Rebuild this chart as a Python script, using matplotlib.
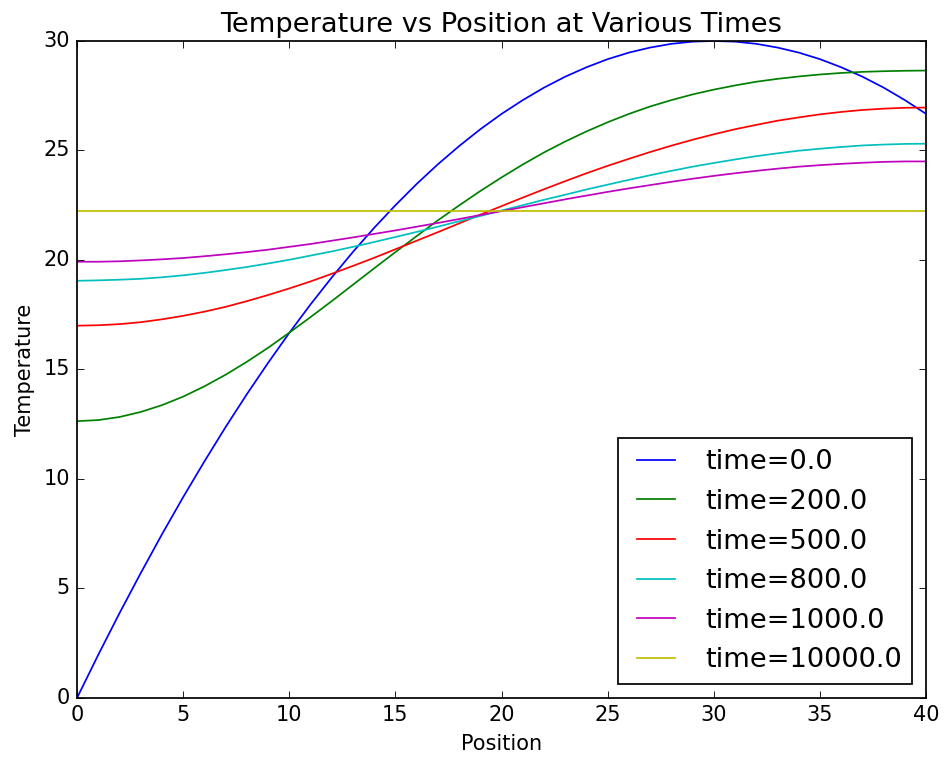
import matplotlib
matplotlib.use('Agg')
import matplotlib.pyplot as plt

plt.style.use('classic')

# position along the rod (step 1)
position = list(range(0, 41))

# temperature profiles
temp_0 = [0.0, 1.97, 3.87, 5.7, 7.47, 9.17, 10.8, 12.37, 13.87, 15.3, 16.67,
          17.97, 19.2, 20.37, 21.47, 22.5, 23.47, 24.37, 25.2, 25.97, 26.67,
          27.3, 27.87, 28.37, 28.8, 29.17, 29.47, 29.7, 29.87, 29.97, 30.0,
          29.97, 29.87, 29.7, 29.47, 29.17, 28.8, 28.37, 27.87, 27.3, 26.67]
temp_200 = [12.64, 12.69, 12.83, 13.06, 13.37, 13.76, 14.23, 14.76, 15.35, 15.99, 16.68,
            17.39, 18.12, 18.87, 19.62, 20.36, 21.09, 21.81, 22.49, 23.15, 23.77,
            24.36, 24.91, 25.41, 25.87, 26.29, 26.67, 27.01, 27.30, 27.56, 27.78,
            27.97, 28.14, 28.27, 28.38, 28.47, 28.54, 28.59, 28.62, 28.64, 28.65]
temp_500 = [17.00, 17.02, 17.07, 17.16, 17.29, 17.45, 17.64, 17.86, 18.12, 18.40, 18.70,
            19.02, 19.37, 19.73, 20.10, 20.49, 20.88, 21.27, 21.67, 22.07, 22.46,
            22.85, 23.23, 23.60, 23.96, 24.30, 24.62, 24.93, 25.22, 25.49, 25.74,
            25.97, 26.17, 26.36, 26.51, 26.65, 26.76, 26.85, 26.91, 26.95, 26.96]
temp_800 = [19.05, 19.07, 19.10, 19.14, 19.21, 19.30, 19.41, 19.54, 19.68, 19.84, 20.01,
            20.20, 20.39, 20.60, 20.82, 21.05, 21.28, 21.52, 21.77, 22.01, 22.26,
            22.50, 22.75, 22.98, 23.22, 23.44, 23.66, 23.87, 24.07, 24.26, 24.43,
            24.59, 24.74, 24.87, 24.99, 25.08, 25.16, 25.23, 25.27, 25.30, 25.31]
temp_1000 = [19.92, 19.92, 19.94, 19.98, 20.03, 20.09, 20.17, 20.26, 20.36, 20.47, 20.60,
             20.73, 20.88, 21.03, 21.19, 21.35, 21.52, 21.69, 21.87, 22.05, 22.23,
             22.41, 22.59, 22.77, 22.94, 23.11, 23.27, 23.42, 23.57, 23.71, 23.84,
             23.96, 24.07, 24.17, 24.26, 24.33, 24.39, 24.44, 24.48, 24.50, 24.50]
temp_10000 = [22.22] * len(position)

profiles = [temp_0, temp_200, temp_500, temp_800, temp_1000, temp_10000]
times = [0.0, 200.0, 500.0, 800.0, 1000.0, 10000.0]

fig = plt.figure(figsize=(7.56, 6.072), dpi=125)
ax = fig.add_axes([0.0815, 0.0804, 0.8985, 0.8656])

for t, temps in zip(times, profiles):
    ax.plot(position, temps, label='time=' + str(t))

ax.set_xlim(0, 40)
ax.set_ylim(0, 30)
ax.set_xlabel('Position')
ax.set_ylabel('Temperature')
ax.set_title('Temperature vs Position at Various Times', fontsize=15.7)
ax.legend(loc='lower right', fontsize=15.7)

fig.savefig('out.png', dpi=125)
